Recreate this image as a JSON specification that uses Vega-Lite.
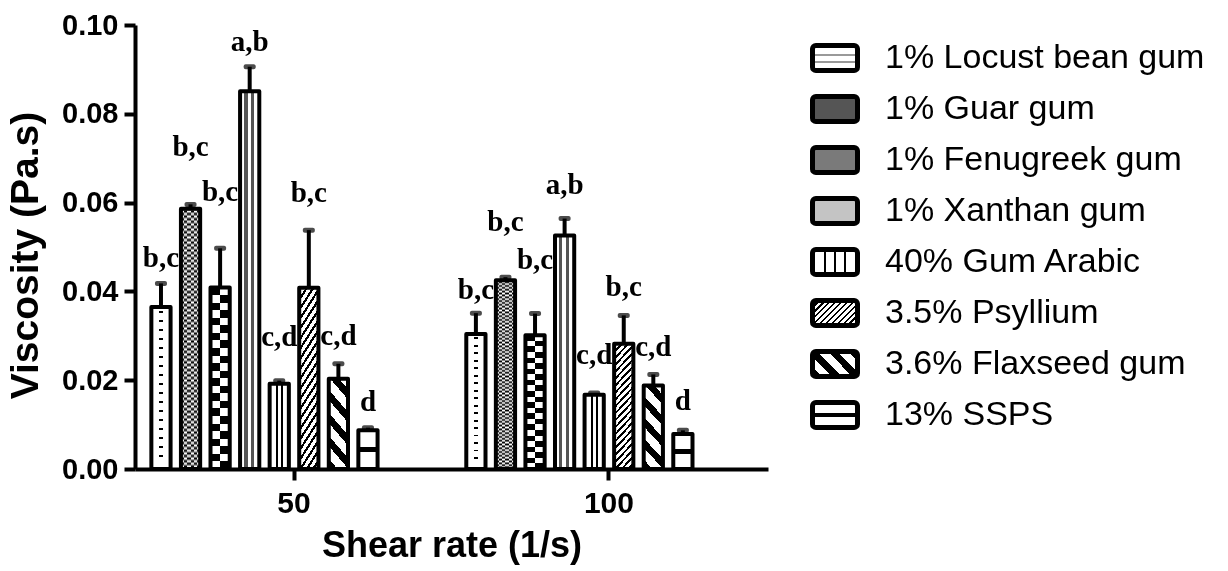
{
  "$schema": "https://vega.github.io/schema/vega-lite/v6.json",
  "width": 633,
  "height": 444,
  "autosize": {"type": "none"},
  "padding": {"left": 135, "top": 25, "right": 460, "bottom": 102},
  "background": "white",
  "config": {
    "view": {"stroke": null},
    "font": "Liberation Sans",
    "axis": {"labelColor": "black", "titleColor": "black", "domainColor": "black", "tickColor": "black", "grid": false}
  },
  "data": {
    "values": [
      {"shear": "50", "series": "1% Locust bean gum", "value": 0.0365, "upper": 0.0418, "label": "b,c", "label_y": 0.0475},
      {"shear": "50", "series": "1% Guar gum", "value": 0.0586, "upper": 0.0596, "label": "b,c", "label_y": 0.0725},
      {"shear": "50", "series": "1% Fenugreek gum", "value": 0.0409, "upper": 0.0497, "label": "b,c", "label_y": 0.0623},
      {"shear": "50", "series": "1% Xanthan gum", "value": 0.0851, "upper": 0.0906, "label": "a,b", "label_y": 0.0962},
      {"shear": "50", "series": "40% Gum Arabic", "value": 0.0192, "upper": 0.0199, "label": "c,d", "label_y": 0.0297},
      {"shear": "50", "series": "3.5% Psyllium", "value": 0.0408, "upper": 0.0538, "label": "b,c", "label_y": 0.0621},
      {"shear": "50", "series": "3.6% Flaxseed gum", "value": 0.0203, "upper": 0.0237, "label": "c,d", "label_y": 0.0299},
      {"shear": "50", "series": "13% SSPS", "value": 0.0087, "upper": 0.0093, "label": "d", "label_y": 0.0152},
      {"shear": "100", "series": "1% Locust bean gum", "value": 0.0304, "upper": 0.0351, "label": "b,c", "label_y": 0.0404},
      {"shear": "100", "series": "1% Guar gum", "value": 0.0425, "upper": 0.0432, "label": "b,c", "label_y": 0.0557},
      {"shear": "100", "series": "1% Fenugreek gum", "value": 0.0301, "upper": 0.035, "label": "b,c", "label_y": 0.047},
      {"shear": "100", "series": "1% Xanthan gum", "value": 0.0526, "upper": 0.0564, "label": "a,b", "label_y": 0.0639},
      {"shear": "100", "series": "40% Gum Arabic", "value": 0.0167, "upper": 0.0171, "label": "c,d", "label_y": 0.0256},
      {"shear": "100", "series": "3.5% Psyllium", "value": 0.0282, "upper": 0.0346, "label": "b,c", "label_y": 0.0409},
      {"shear": "100", "series": "3.6% Flaxseed gum", "value": 0.0188, "upper": 0.0213, "label": "c,d", "label_y": 0.0275},
      {"shear": "100", "series": "13% SSPS", "value": 0.0079, "upper": 0.0087, "label": "d", "label_y": 0.0154}
    ]
  },
  "encoding": {
    "x": {
      "field": "shear", "type": "nominal", "title": "Shear rate (1/s)",
      "scale": {"domain": ["50", "100"], "paddingInner": 0, "paddingOuter": 0.005},
      "axis": {"labelAngle": 0, "labelFontSize": 30, "labelFontWeight": "bold", "labelPadding": 8, "tickSize": 11, "tickWidth": 4, "domainWidth": 4, "titleFontSize": 36, "titleFontWeight": "bold", "titlePadding": 10}
    },
    "xOffset": {
      "field": "series", "type": "nominal",
      "scale": {"domain": ["1% Locust bean gum", "1% Guar gum", "1% Fenugreek gum", "1% Xanthan gum", "40% Gum Arabic", "3.5% Psyllium", "3.6% Flaxseed gum", "13% SSPS", "_p1", "_p2"], "paddingInner": 0.35, "paddingOuter": 0.5}
    },
    "y": {
      "field": "value", "type": "quantitative", "title": "Viscosity (Pa.s)",
      "scale": {"domain": [0, 0.1], "nice": false},
      "axis": {"values": [0, 0.02, 0.04, 0.06, 0.08, 0.1], "format": ".2f", "labelFontSize": 29, "labelFontWeight": "bold", "labelPadding": 6, "tickSize": 11, "tickWidth": 4, "domainWidth": 4, "titleFontSize": 39, "titleFontWeight": "bold", "titlePadding": 16, "titleY": 230}
    }
  },
  "layer": [
    {
      "mark": {"type": "bar", "strokeWidth": 0},
      "encoding": {
        "color": {
          "field": "series", "type": "nominal",
          "scale": {
            "domain": ["1% Locust bean gum", "1% Guar gum", "1% Fenugreek gum", "1% Xanthan gum", "40% Gum Arabic", "3.5% Psyllium", "3.6% Flaxseed gum", "13% SSPS"],
            "range": [
              {"expr": "{gradient:'linear',x1:0,y1:0,x2:0,y2:1,stops:[{offset:0,color:'#fff'},{offset:0.33,color:'#fff'},{offset:0.33,color:'#999'},{offset:0.42,color:'#999'},{offset:0.42,color:'#fff'},{offset:0.62,color:'#fff'},{offset:0.62,color:'#999'},{offset:0.71,color:'#999'},{offset:0.71,color:'#fff'},{offset:1,color:'#fff'}]}"},
              "#555555",
              "#7a7a7a",
              "#c4c4c4",
              {"expr": "{gradient:'linear',x1:0,y1:0,x2:1,y2:0,stops:[{offset:0,color:'#fff'},{offset:0.245,color:'#fff'},{offset:0.245,color:'#000'},{offset:0.311,color:'#000'},{offset:0.311,color:'#fff'},{offset:0.467,color:'#fff'},{offset:0.467,color:'#000'},{offset:0.533,color:'#000'},{offset:0.533,color:'#fff'},{offset:0.689,color:'#fff'},{offset:0.689,color:'#000'},{offset:0.755,color:'#000'},{offset:0.755,color:'#fff'},{offset:1,color:'#fff'}]}"},
              {"expr": "{gradient:'linear',x1:0,y1:0,x2:1.2,y2:0.667,stops:[{offset:0,color:'#000'},{offset:0.033,color:'#000'},{offset:0.033,color:'#fff'},{offset:0.0833,color:'#fff'},{offset:0.0833,color:'#000'},{offset:0.1163,color:'#000'},{offset:0.1163,color:'#fff'},{offset:0.1667,color:'#fff'},{offset:0.1667,color:'#000'},{offset:0.1997,color:'#000'},{offset:0.1997,color:'#fff'},{offset:0.25,color:'#fff'},{offset:0.25,color:'#000'},{offset:0.283,color:'#000'},{offset:0.283,color:'#fff'},{offset:0.3333,color:'#fff'},{offset:0.3333,color:'#000'},{offset:0.3663,color:'#000'},{offset:0.3663,color:'#fff'},{offset:0.4167,color:'#fff'},{offset:0.4167,color:'#000'},{offset:0.4497,color:'#000'},{offset:0.4497,color:'#fff'},{offset:0.5,color:'#fff'},{offset:0.5,color:'#000'},{offset:0.533,color:'#000'},{offset:0.533,color:'#fff'},{offset:0.5833,color:'#fff'},{offset:0.5833,color:'#000'},{offset:0.6163,color:'#000'},{offset:0.6163,color:'#fff'},{offset:0.6667,color:'#fff'},{offset:0.6667,color:'#000'},{offset:0.6997,color:'#000'},{offset:0.6997,color:'#fff'},{offset:0.75,color:'#fff'},{offset:0.75,color:'#000'},{offset:0.783,color:'#000'},{offset:0.783,color:'#fff'},{offset:0.8333,color:'#fff'},{offset:0.8333,color:'#000'},{offset:0.8663,color:'#000'},{offset:0.8663,color:'#fff'},{offset:0.9167,color:'#fff'},{offset:0.9167,color:'#000'},{offset:0.9497,color:'#000'},{offset:0.9497,color:'#fff'},{offset:1,color:'#fff'}]}"},
              {"expr": "{gradient:'linear',x1:0,y1:1,x2:1.2,y2:0.333,stops:[{offset:0,color:'#000'},{offset:0.14,color:'#000'},{offset:0.14,color:'#fff'},{offset:0.283,color:'#fff'},{offset:0.283,color:'#000'},{offset:0.423,color:'#000'},{offset:0.423,color:'#fff'},{offset:0.566,color:'#fff'},{offset:0.566,color:'#000'},{offset:0.706,color:'#000'},{offset:0.706,color:'#fff'},{offset:0.849,color:'#fff'},{offset:0.849,color:'#000'},{offset:0.989,color:'#000'},{offset:0.989,color:'#fff'},{offset:1,color:'#fff'}]}"},
              {"expr": "{gradient:'linear',x1:0,y1:0,x2:0,y2:1,stops:[{offset:0,color:'#fff'},{offset:0.44,color:'#fff'},{offset:0.44,color:'#000'},{offset:0.56,color:'#000'},{offset:0.56,color:'#fff'},{offset:1,color:'#fff'}]}"}
            ]
          },
          "legend": {
            "orient": "none", "legendX": 675, "legendY": 8, "title": null, "padding": 0,
            "symbolType": "M-0.85,-0.556H0.85A0.15,0.15 0 0 1 1,-0.406V0.406A0.15,0.15 0 0 1 0.85,0.556H-0.85A0.15,0.15 0 0 1 -1,0.406V-0.406A0.15,0.15 0 0 1 -0.85,-0.556Z",
            "symbolSize": 2025, "symbolStrokeColor": "black", "symbolStrokeWidth": 5, "symbolOpacity": 1,
            "labelFont": "Liberation Sans", "labelFontSize": 34, "labelColor": "black", "labelOffset": 25, "labelLimit": 600, "rowPadding": 3
          }
        }
      }
    },
    {
      "transform": [{"filter": "datum.series === '1% Locust bean gum'"}],
      "mark": {"type": "bar", "strokeWidth": 0,
        "fill": {"gradient": "linear", "x1": 0, "y1": 0, "x2": 0, "y2": 1, "stops": [
          {"offset": 0, "color": "#fff"},
          {"offset": 0.025, "color": "#fff"}, {"offset": 0.025, "color": "#000"}, {"offset": 0.037, "color": "#000"}, {"offset": 0.037, "color": "#fff"},
          {"offset": 0.0806, "color": "#fff"}, {"offset": 0.0806, "color": "#000"}, {"offset": 0.0926, "color": "#000"}, {"offset": 0.0926, "color": "#fff"},
          {"offset": 0.1361, "color": "#fff"}, {"offset": 0.1361, "color": "#000"}, {"offset": 0.1481, "color": "#000"}, {"offset": 0.1481, "color": "#fff"},
          {"offset": 0.1917, "color": "#fff"}, {"offset": 0.1917, "color": "#000"}, {"offset": 0.2037, "color": "#000"}, {"offset": 0.2037, "color": "#fff"},
          {"offset": 0.2472, "color": "#fff"}, {"offset": 0.2472, "color": "#000"}, {"offset": 0.2592, "color": "#000"}, {"offset": 0.2592, "color": "#fff"},
          {"offset": 0.3028, "color": "#fff"}, {"offset": 0.3028, "color": "#000"}, {"offset": 0.3148, "color": "#000"}, {"offset": 0.3148, "color": "#fff"},
          {"offset": 0.3583, "color": "#fff"}, {"offset": 0.3583, "color": "#000"}, {"offset": 0.3703, "color": "#000"}, {"offset": 0.3703, "color": "#fff"},
          {"offset": 0.4139, "color": "#fff"}, {"offset": 0.4139, "color": "#000"}, {"offset": 0.4259, "color": "#000"}, {"offset": 0.4259, "color": "#fff"},
          {"offset": 0.4694, "color": "#fff"}, {"offset": 0.4694, "color": "#000"}, {"offset": 0.4814, "color": "#000"}, {"offset": 0.4814, "color": "#fff"},
          {"offset": 0.525, "color": "#fff"}, {"offset": 0.525, "color": "#000"}, {"offset": 0.537, "color": "#000"}, {"offset": 0.537, "color": "#fff"},
          {"offset": 0.5806, "color": "#fff"}, {"offset": 0.5806, "color": "#000"}, {"offset": 0.5926, "color": "#000"}, {"offset": 0.5926, "color": "#fff"},
          {"offset": 0.6361, "color": "#fff"}, {"offset": 0.6361, "color": "#000"}, {"offset": 0.6481, "color": "#000"}, {"offset": 0.6481, "color": "#fff"},
          {"offset": 0.6917, "color": "#fff"}, {"offset": 0.6917, "color": "#000"}, {"offset": 0.7037, "color": "#000"}, {"offset": 0.7037, "color": "#fff"},
          {"offset": 0.7472, "color": "#fff"}, {"offset": 0.7472, "color": "#000"}, {"offset": 0.7592, "color": "#000"}, {"offset": 0.7592, "color": "#fff"},
          {"offset": 0.8028, "color": "#fff"}, {"offset": 0.8028, "color": "#000"}, {"offset": 0.8148, "color": "#000"}, {"offset": 0.8148, "color": "#fff"},
          {"offset": 0.8583, "color": "#fff"}, {"offset": 0.8583, "color": "#000"}, {"offset": 0.8703, "color": "#000"}, {"offset": 0.8703, "color": "#fff"},
          {"offset": 0.9139, "color": "#fff"}, {"offset": 0.9139, "color": "#000"}, {"offset": 0.9259, "color": "#000"}, {"offset": 0.9259, "color": "#fff"},
          {"offset": 1, "color": "#fff"}]}}
    },
    {
      "transform": [{"filter": "datum.series === '1% Guar gum'"}],
      "mark": {"type": "bar", "strokeWidth": 0,
        "fill": {"gradient": "linear", "x1": 0, "y1": 0, "x2": 0, "y2": 1, "stops": [
          {"offset": 0, "color": "#000"}, {"offset": 0.01, "color": "#fff"}, {"offset": 0.02, "color": "#000"}, {"offset": 0.03, "color": "#fff"}, {"offset": 0.04, "color": "#000"},
          {"offset": 0.05, "color": "#fff"}, {"offset": 0.06, "color": "#000"}, {"offset": 0.07, "color": "#fff"}, {"offset": 0.08, "color": "#000"}, {"offset": 0.09, "color": "#fff"},
          {"offset": 0.1, "color": "#000"}, {"offset": 0.11, "color": "#fff"}, {"offset": 0.12, "color": "#000"}, {"offset": 0.13, "color": "#fff"}, {"offset": 0.14, "color": "#000"},
          {"offset": 0.15, "color": "#fff"}, {"offset": 0.16, "color": "#000"}, {"offset": 0.17, "color": "#fff"}, {"offset": 0.18, "color": "#000"}, {"offset": 0.19, "color": "#fff"},
          {"offset": 0.2, "color": "#000"}, {"offset": 0.21, "color": "#fff"}, {"offset": 0.22, "color": "#000"}, {"offset": 0.23, "color": "#fff"}, {"offset": 0.24, "color": "#000"},
          {"offset": 0.25, "color": "#fff"}, {"offset": 0.26, "color": "#000"}, {"offset": 0.27, "color": "#fff"}, {"offset": 0.28, "color": "#000"}, {"offset": 0.29, "color": "#fff"},
          {"offset": 0.3, "color": "#000"}, {"offset": 0.31, "color": "#fff"}, {"offset": 0.32, "color": "#000"}, {"offset": 0.33, "color": "#fff"}, {"offset": 0.34, "color": "#000"},
          {"offset": 0.35, "color": "#fff"}, {"offset": 0.36, "color": "#000"}, {"offset": 0.37, "color": "#fff"}, {"offset": 0.38, "color": "#000"}, {"offset": 0.39, "color": "#fff"},
          {"offset": 0.4, "color": "#000"}, {"offset": 0.41, "color": "#fff"}, {"offset": 0.42, "color": "#000"}, {"offset": 0.43, "color": "#fff"}, {"offset": 0.44, "color": "#000"},
          {"offset": 0.45, "color": "#fff"}, {"offset": 0.46, "color": "#000"}, {"offset": 0.47, "color": "#fff"}, {"offset": 0.48, "color": "#000"}, {"offset": 0.49, "color": "#fff"},
          {"offset": 0.5, "color": "#000"}, {"offset": 0.51, "color": "#fff"}, {"offset": 0.52, "color": "#000"}, {"offset": 0.53, "color": "#fff"}, {"offset": 0.54, "color": "#000"},
          {"offset": 0.55, "color": "#fff"}, {"offset": 0.56, "color": "#000"}, {"offset": 0.57, "color": "#fff"}, {"offset": 0.58, "color": "#000"}, {"offset": 0.59, "color": "#fff"},
          {"offset": 0.6, "color": "#000"}, {"offset": 0.61, "color": "#fff"}, {"offset": 0.62, "color": "#000"}, {"offset": 0.63, "color": "#fff"}, {"offset": 0.64, "color": "#000"},
          {"offset": 0.65, "color": "#fff"}, {"offset": 0.66, "color": "#000"}, {"offset": 0.67, "color": "#fff"}, {"offset": 0.68, "color": "#000"}, {"offset": 0.69, "color": "#fff"},
          {"offset": 0.7, "color": "#000"}, {"offset": 0.71, "color": "#fff"}, {"offset": 0.72, "color": "#000"}, {"offset": 0.73, "color": "#fff"}, {"offset": 0.74, "color": "#000"},
          {"offset": 0.75, "color": "#fff"}, {"offset": 0.76, "color": "#000"}, {"offset": 0.77, "color": "#fff"}, {"offset": 0.78, "color": "#000"}, {"offset": 0.79, "color": "#fff"},
          {"offset": 0.8, "color": "#000"}, {"offset": 0.81, "color": "#fff"}, {"offset": 0.82, "color": "#000"}, {"offset": 0.83, "color": "#fff"}, {"offset": 0.84, "color": "#000"},
          {"offset": 0.85, "color": "#fff"}, {"offset": 0.86, "color": "#000"}, {"offset": 0.87, "color": "#fff"}, {"offset": 0.88, "color": "#000"}, {"offset": 0.89, "color": "#fff"},
          {"offset": 0.9, "color": "#000"}, {"offset": 0.91, "color": "#fff"}, {"offset": 0.92, "color": "#000"}, {"offset": 0.93, "color": "#fff"}, {"offset": 0.94, "color": "#000"},
          {"offset": 0.95, "color": "#fff"}, {"offset": 0.96, "color": "#000"}, {"offset": 0.97, "color": "#fff"}, {"offset": 0.98, "color": "#000"}, {"offset": 0.99, "color": "#fff"},
          {"offset": 1, "color": "#000"}]}}
    },
    {
      "transform": [{"filter": "datum.series === '1% Fenugreek gum'"}],
      "mark": {"type": "bar", "strokeWidth": 0,
        "fill": {"gradient": "linear", "x1": 0, "y1": 0, "x2": 0, "y2": 1, "stops": [
          {"offset": 0, "color": "#000"}, {"offset": 0.041667, "color": "#000"}, {"offset": 0.041667, "color": "#fff"}, {"offset": 0.083333, "color": "#fff"},
          {"offset": 0.083333, "color": "#000"}, {"offset": 0.125, "color": "#000"}, {"offset": 0.125, "color": "#fff"}, {"offset": 0.166667, "color": "#fff"},
          {"offset": 0.166667, "color": "#000"}, {"offset": 0.208333, "color": "#000"}, {"offset": 0.208333, "color": "#fff"}, {"offset": 0.25, "color": "#fff"},
          {"offset": 0.25, "color": "#000"}, {"offset": 0.291667, "color": "#000"}, {"offset": 0.291667, "color": "#fff"}, {"offset": 0.333333, "color": "#fff"},
          {"offset": 0.333333, "color": "#000"}, {"offset": 0.375, "color": "#000"}, {"offset": 0.375, "color": "#fff"}, {"offset": 0.416667, "color": "#fff"},
          {"offset": 0.416667, "color": "#000"}, {"offset": 0.458333, "color": "#000"}, {"offset": 0.458333, "color": "#fff"}, {"offset": 0.5, "color": "#fff"},
          {"offset": 0.5, "color": "#000"}, {"offset": 0.541667, "color": "#000"}, {"offset": 0.541667, "color": "#fff"}, {"offset": 0.583333, "color": "#fff"},
          {"offset": 0.583333, "color": "#000"}, {"offset": 0.625, "color": "#000"}, {"offset": 0.625, "color": "#fff"}, {"offset": 0.666667, "color": "#fff"},
          {"offset": 0.666667, "color": "#000"}, {"offset": 0.708333, "color": "#000"}, {"offset": 0.708333, "color": "#fff"}, {"offset": 0.75, "color": "#fff"},
          {"offset": 0.75, "color": "#000"}, {"offset": 0.791667, "color": "#000"}, {"offset": 0.791667, "color": "#fff"}, {"offset": 0.833333, "color": "#fff"},
          {"offset": 0.833333, "color": "#000"}, {"offset": 0.875, "color": "#000"}, {"offset": 0.875, "color": "#fff"}, {"offset": 0.916667, "color": "#fff"},
          {"offset": 0.916667, "color": "#000"}, {"offset": 0.958333, "color": "#000"}, {"offset": 0.958333, "color": "#fff"}, {"offset": 1, "color": "#fff"}]}}
    },
    {
      "transform": [{"filter": "datum.series === '1% Xanthan gum'"}],
      "mark": {"type": "bar", "strokeWidth": 0,
        "fill": {"gradient": "linear", "x1": 0, "y1": 0, "x2": 1, "y2": 0, "stops": [
          {"offset": 0, "color": "#fff"}, {"offset": 0.23, "color": "#fff"}, {"offset": 0.23, "color": "#555"}, {"offset": 0.39, "color": "#555"}, {"offset": 0.39, "color": "#fff"},
          {"offset": 0.57, "color": "#fff"}, {"offset": 0.57, "color": "#555"}, {"offset": 0.73, "color": "#555"}, {"offset": 0.73, "color": "#fff"}, {"offset": 1, "color": "#fff"}]}}
    },
    {
      "transform": [{"filter": "datum.series === '40% Gum Arabic'"}],
      "mark": {"type": "bar", "strokeWidth": 0,
        "fill": {"gradient": "linear", "x1": 0, "y1": 0, "x2": 1, "y2": 0, "stops": [
          {"offset": 0, "color": "#fff"}, {"offset": 0.32, "color": "#fff"}, {"offset": 0.32, "color": "#000"}, {"offset": 0.42, "color": "#000"}, {"offset": 0.42, "color": "#fff"},
          {"offset": 0.58, "color": "#fff"}, {"offset": 0.58, "color": "#000"}, {"offset": 0.68, "color": "#000"}, {"offset": 0.68, "color": "#fff"}, {"offset": 1, "color": "#fff"}]}}
    },
    {
      "transform": [{"filter": "datum.series === '3.5% Psyllium'"}],
      "mark": {"type": "bar", "strokeWidth": 0,
        "fill": {"gradient": "linear", "x1": 0, "y1": 0, "x2": 1, "y2": 6, "stops": [
          {"offset": 0, "color": "#000"}, {"offset": 0.0036, "color": "#000"}, {"offset": 0.0036, "color": "#fff"}, {"offset": 0.009, "color": "#fff"},
          {"offset": 0.009, "color": "#000"}, {"offset": 0.0126, "color": "#000"}, {"offset": 0.0126, "color": "#fff"}, {"offset": 0.018, "color": "#fff"},
          {"offset": 0.018, "color": "#000"}, {"offset": 0.0216, "color": "#000"}, {"offset": 0.0216, "color": "#fff"}, {"offset": 0.027, "color": "#fff"},
          {"offset": 0.027, "color": "#000"}, {"offset": 0.0306, "color": "#000"}, {"offset": 0.0306, "color": "#fff"}, {"offset": 0.036, "color": "#fff"},
          {"offset": 0.036, "color": "#000"}, {"offset": 0.0396, "color": "#000"}, {"offset": 0.0396, "color": "#fff"}, {"offset": 0.045, "color": "#fff"},
          {"offset": 0.045, "color": "#000"}, {"offset": 0.0486, "color": "#000"}, {"offset": 0.0486, "color": "#fff"}, {"offset": 0.054, "color": "#fff"},
          {"offset": 0.054, "color": "#000"}, {"offset": 0.0576, "color": "#000"}, {"offset": 0.0576, "color": "#fff"}, {"offset": 0.063, "color": "#fff"},
          {"offset": 0.063, "color": "#000"}, {"offset": 0.0666, "color": "#000"}, {"offset": 0.0666, "color": "#fff"}, {"offset": 0.072, "color": "#fff"},
          {"offset": 0.072, "color": "#000"}, {"offset": 0.0756, "color": "#000"}, {"offset": 0.0756, "color": "#fff"}, {"offset": 0.081, "color": "#fff"},
          {"offset": 0.081, "color": "#000"}, {"offset": 0.0846, "color": "#000"}, {"offset": 0.0846, "color": "#fff"}, {"offset": 0.09, "color": "#fff"},
          {"offset": 0.09, "color": "#000"}, {"offset": 0.0936, "color": "#000"}, {"offset": 0.0936, "color": "#fff"}, {"offset": 0.099, "color": "#fff"},
          {"offset": 0.099, "color": "#000"}, {"offset": 0.1026, "color": "#000"}, {"offset": 0.1026, "color": "#fff"}, {"offset": 0.108, "color": "#fff"},
          {"offset": 0.108, "color": "#000"}, {"offset": 0.1116, "color": "#000"}, {"offset": 0.1116, "color": "#fff"}, {"offset": 0.117, "color": "#fff"},
          {"offset": 0.117, "color": "#000"}, {"offset": 0.1206, "color": "#000"}, {"offset": 0.1206, "color": "#fff"}, {"offset": 0.126, "color": "#fff"},
          {"offset": 0.126, "color": "#000"}, {"offset": 0.1296, "color": "#000"}, {"offset": 0.1296, "color": "#fff"}, {"offset": 0.135, "color": "#fff"},
          {"offset": 0.135, "color": "#000"}, {"offset": 0.1386, "color": "#000"}, {"offset": 0.1386, "color": "#fff"}, {"offset": 0.144, "color": "#fff"},
          {"offset": 0.144, "color": "#000"}, {"offset": 0.1476, "color": "#000"}, {"offset": 0.1476, "color": "#fff"}, {"offset": 0.153, "color": "#fff"},
          {"offset": 0.153, "color": "#000"}, {"offset": 0.1566, "color": "#000"}, {"offset": 0.1566, "color": "#fff"}, {"offset": 0.162, "color": "#fff"},
          {"offset": 0.162, "color": "#000"}, {"offset": 0.1656, "color": "#000"}, {"offset": 0.1656, "color": "#fff"}, {"offset": 0.171, "color": "#fff"},
          {"offset": 0.171, "color": "#000"}, {"offset": 0.1746, "color": "#000"}, {"offset": 0.1746, "color": "#fff"}, {"offset": 0.18, "color": "#fff"},
          {"offset": 0.18, "color": "#000"}, {"offset": 0.1836, "color": "#000"}, {"offset": 0.1836, "color": "#fff"}, {"offset": 0.189, "color": "#fff"},
          {"offset": 0.189, "color": "#000"}, {"offset": 0.1926, "color": "#000"}, {"offset": 0.1926, "color": "#fff"}, {"offset": 1, "color": "#fff"}]}}
    },
    {
      "transform": [{"filter": "datum.series === '3.6% Flaxseed gum'"}],
      "mark": {"type": "bar", "strokeWidth": 0,
        "fill": {"gradient": "linear", "x1": 0, "y1": 1, "x2": 1, "y2": -3, "stops": [
          {"offset": 0, "color": "#000"}, {"offset": 0.027, "color": "#000"}, {"offset": 0.027, "color": "#fff"}, {"offset": 0.06, "color": "#fff"},
          {"offset": 0.06, "color": "#000"}, {"offset": 0.087, "color": "#000"}, {"offset": 0.087, "color": "#fff"}, {"offset": 0.12, "color": "#fff"},
          {"offset": 0.12, "color": "#000"}, {"offset": 0.147, "color": "#000"}, {"offset": 0.147, "color": "#fff"}, {"offset": 0.18, "color": "#fff"},
          {"offset": 0.18, "color": "#000"}, {"offset": 0.207, "color": "#000"}, {"offset": 0.207, "color": "#fff"}, {"offset": 0.24, "color": "#fff"},
          {"offset": 0.24, "color": "#000"}, {"offset": 0.267, "color": "#000"}, {"offset": 0.267, "color": "#fff"}, {"offset": 0.3, "color": "#fff"},
          {"offset": 0.3, "color": "#000"}, {"offset": 0.327, "color": "#000"}, {"offset": 0.327, "color": "#fff"}, {"offset": 1, "color": "#fff"}]}}
    },
    {
      "transform": [{"filter": "datum.series === '13% SSPS'"}],
      "mark": {"type": "bar", "strokeWidth": 0,
        "fill": {"gradient": "linear", "x1": 0, "y1": 0, "x2": 0, "y2": 1, "stops": [
          {"offset": 0, "color": "#fff"}, {"offset": 0.44, "color": "#fff"}, {"offset": 0.44, "color": "#000"}, {"offset": 0.56, "color": "#000"}, {"offset": 0.56, "color": "#fff"}, {"offset": 1, "color": "#fff"}]}}
    },
    {
      "transform": [{"filter": "datum.series === '1% Locust bean gum'"}],
      "mark": {"type": "bar", "strokeWidth": 0, "blend": "lighten",
        "fill": {"gradient": "linear", "x1": 0, "y1": 0, "x2": 1, "y2": 0, "stops": [
          {"offset": 0, "color": "#fff"}, {"offset": 0.4, "color": "#fff"}, {"offset": 0.4, "color": "#000"}, {"offset": 0.6, "color": "#000"}, {"offset": 0.6, "color": "#fff"}, {"offset": 1, "color": "#fff"}]}}
    },
    {
      "transform": [{"filter": "datum.series === '1% Guar gum'"}],
      "mark": {"type": "bar", "strokeWidth": 0, "blend": "difference",
        "fill": {"gradient": "linear", "x1": 0, "y1": 0, "x2": 1, "y2": 0, "stops": [
          {"offset": 0, "color": "#000"}, {"offset": 0.1667, "color": "#000"}, {"offset": 0.1667, "color": "#fff"}, {"offset": 0.3333, "color": "#fff"},
          {"offset": 0.3333, "color": "#000"}, {"offset": 0.5, "color": "#000"}, {"offset": 0.5, "color": "#fff"}, {"offset": 0.6667, "color": "#fff"},
          {"offset": 0.6667, "color": "#000"}, {"offset": 0.8333, "color": "#000"}, {"offset": 0.8333, "color": "#fff"}, {"offset": 1, "color": "#fff"}]}}
    },
    {
      "transform": [{"filter": "datum.series === '1% Fenugreek gum'"}],
      "mark": {"type": "bar", "strokeWidth": 0, "blend": "difference",
        "fill": {"gradient": "linear", "x1": 0, "y1": 0, "x2": 1, "y2": 0, "stops": [
          {"offset": 0, "color": "#000"}, {"offset": 0.5, "color": "#000"}, {"offset": 0.5, "color": "#fff"}, {"offset": 1, "color": "#fff"}]}}
    },
    {
      "mark": {"type": "bar", "fill": "white", "fillOpacity": 0, "stroke": "black", "strokeWidth": 4, "strokeJoin": "round"}
    },
    {
      "mark": {"type": "rule", "color": "black", "strokeWidth": 4},
      "encoding": {"y2": {"field": "upper"}}
    },
    {
      "mark": {"type": "tick", "color": "black", "orient": "horizontal", "size": 12, "thickness": 5, "cornerRadius": 2},
      "encoding": {"y": {"field": "upper", "type": "quantitative", "title": "Viscosity (Pa.s)"}}
    },
    {
      "mark": {"type": "text", "font": "Liberation Serif", "fontWeight": "bold", "fontSize": 29, "color": "black", "baseline": "middle", "align": "center"},
      "encoding": {
        "y": {"field": "label_y", "type": "quantitative", "title": "Viscosity (Pa.s)"},
        "text": {"field": "label"}
      }
    }
  ]
}
